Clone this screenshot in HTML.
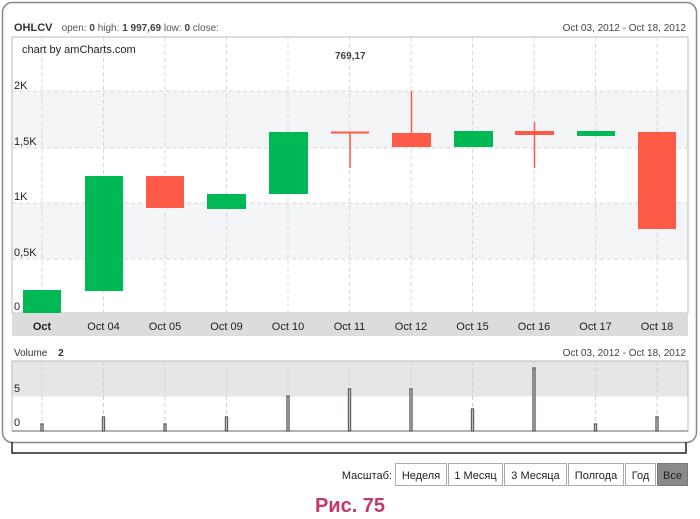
<!DOCTYPE html>
<html><head><meta charset="utf-8"><style>
body{margin:0;background:#fff;width:700px;height:514px;overflow:hidden;font-family:"Liberation Sans",sans-serif}
</style></head><body>
<svg width="700" height="514" xmlns="http://www.w3.org/2000/svg" font-family="Liberation Sans, sans-serif">
<rect x="2.5" y="2.5" width="694" height="440" rx="10" fill="#fff" stroke="#888" stroke-width="1.5"/>
<path d="M12 442 V453 H686 V442" fill="none" stroke="#222" stroke-width="1.5"/>
<text x="14" y="31" font-size="11" fill="#444"><tspan font-weight="bold" fill="#333">OHLCV</tspan>   <tspan dx="6" font-size="10" fill="#555">open: </tspan><tspan font-size="10" font-weight="bold">0</tspan><tspan font-size="10" fill="#555"> high: </tspan><tspan font-size="10" font-weight="bold">1 997,69</tspan><tspan font-size="10" fill="#555"> low: </tspan><tspan font-size="10" font-weight="bold">0</tspan><tspan font-size="10" fill="#555"> close:</tspan></text>
<text x="686" y="31" font-size="10" fill="#444" text-anchor="end">Oct 03, 2012 - Oct 18, 2012</text>
<rect x="12" y="37" width="676" height="276" fill="#fff" stroke="#bbb"/>
<rect x="12.5" y="91" width="675" height="57" fill="#f4f5f7"/>
<rect x="12.5" y="203" width="675" height="56" fill="#f4f5f7"/>
<g stroke="#d8d8d8" stroke-dasharray="4,3">
<line x1="12" y1="91" x2="688" y2="91"/><line x1="12" y1="148" x2="688" y2="148"/><line x1="12" y1="203" x2="688" y2="203"/><line x1="12" y1="259" x2="688" y2="259"/>
<line x1="42" y1="37" x2="42" y2="313"/><line x1="103.5" y1="37" x2="103.5" y2="313"/><line x1="165" y1="37" x2="165" y2="313"/><line x1="226.5" y1="37" x2="226.5" y2="313"/><line x1="288" y1="37" x2="288" y2="313"/><line x1="349.5" y1="37" x2="349.5" y2="313"/><line x1="411" y1="37" x2="411" y2="313"/><line x1="472.5" y1="37" x2="472.5" y2="313"/><line x1="534" y1="37" x2="534" y2="313"/><line x1="595.5" y1="37" x2="595.5" y2="313"/><line x1="657" y1="37" x2="657" y2="313"/>
</g>
<text x="22" y="53" font-size="11" fill="#222">chart by amCharts.com</text>
<text x="335" y="59" font-size="10" font-weight="bold" fill="#444">769,17</text>
<g font-size="11" fill="#222"><text x="14" y="89">2K</text><text x="14" y="145">1,5K</text><text x="14" y="200">1K</text><text x="14" y="256">0,5K</text><text x="14" y="310">0</text></g>
<g fill="#00b954">
<rect x="23" y="290" width="38" height="23"/><rect x="85" y="176" width="38" height="115"/><rect x="207" y="194" width="39" height="15"/><rect x="269" y="132" width="39" height="62"/><rect x="454" y="131" width="39" height="16"/><rect x="577" y="131" width="38" height="5"/>
</g>
<g fill="#ff5a47" stroke="#ff5a47">
<rect x="146" y="176" width="38" height="32" stroke="none"/>
<rect x="331" y="131.5" width="38" height="2" stroke="none"/><line x1="350" y1="132" x2="350" y2="168" stroke-width="1.5"/>
<rect x="392" y="133" width="39" height="14" stroke="none"/><line x1="411.5" y1="91" x2="411.5" y2="133" stroke-width="1.5"/>
<rect x="515" y="131" width="39" height="4" stroke="none"/><line x1="534.5" y1="122" x2="534.5" y2="168" stroke-width="1.5"/>
<rect x="638" y="132" width="38" height="97" stroke="none"/>
</g>
<rect x="12" y="314" width="676" height="22" fill="#dcdcdc"/>
<g font-size="11" fill="#222" text-anchor="middle">
<text x="42" y="330" font-weight="bold">Oct</text><text x="103.5" y="330">Oct 04</text><text x="165" y="330">Oct 05</text><text x="226.5" y="330">Oct 09</text><text x="288" y="330">Oct 10</text><text x="349.5" y="330">Oct 11</text><text x="411" y="330">Oct 12</text><text x="472.5" y="330">Oct 15</text><text x="534" y="330">Oct 16</text><text x="595.5" y="330">Oct 17</text><text x="657" y="330">Oct 18</text>
</g>
<text x="14" y="356" font-size="10" fill="#333">Volume <tspan dx="8" font-weight="bold">2</tspan></text>
<text x="686" y="356" font-size="10" fill="#444" text-anchor="end">Oct 03, 2012 - Oct 18, 2012</text>
<rect x="12" y="361" width="676" height="70" fill="#fff" stroke="#bbb"/>
<rect x="12.5" y="361.5" width="675" height="35" fill="#e6e6e6"/>
<g stroke="#d0d0d0" stroke-dasharray="4,3">
<line x1="42" y1="361" x2="42" y2="431"/><line x1="103.5" y1="361" x2="103.5" y2="431"/><line x1="165" y1="361" x2="165" y2="431"/><line x1="226.5" y1="361" x2="226.5" y2="431"/><line x1="288" y1="361" x2="288" y2="431"/><line x1="349.5" y1="361" x2="349.5" y2="431"/><line x1="411" y1="361" x2="411" y2="431"/><line x1="472.5" y1="361" x2="472.5" y2="431"/><line x1="534" y1="361" x2="534" y2="431"/><line x1="595.5" y1="361" x2="595.5" y2="431"/><line x1="657" y1="361" x2="657" y2="431"/>
</g>
<line x1="12" y1="431" x2="688" y2="431" stroke="#666"/>
<g font-size="11" fill="#222"><text x="14" y="392">5</text><text x="14" y="426">0</text></g>
<g fill="#fff" stroke="#5a6466" stroke-width="1.4">
<rect x="41" y="424" width="2" height="7"/><rect x="102.5" y="417" width="2" height="14"/><rect x="164" y="424" width="2" height="7"/><rect x="225.5" y="417" width="2" height="14"/><rect x="287" y="396" width="2" height="35"/><rect x="348.5" y="389" width="2" height="42"/><rect x="410" y="389" width="2" height="42"/><rect x="471.5" y="409" width="2" height="22"/><rect x="533" y="368" width="2" height="63"/><rect x="594.5" y="424" width="2" height="7"/><rect x="656" y="417" width="2" height="14"/>
</g>
<text x="392" y="479" font-size="11" fill="#222" text-anchor="end">Масштаб:</text>
<g font-size="11" fill="#222" text-anchor="middle" stroke-width="1">
<rect x="395.5" y="463.5" width="51" height="22" fill="#fff" stroke="#aaa"/><text x="421" y="479">Неделя</text>
<rect x="448.5" y="463.5" width="54" height="22" fill="#fff" stroke="#aaa"/><text x="475.5" y="479">1 Месяц</text>
<rect x="504.5" y="463.5" width="62" height="22" fill="#fff" stroke="#aaa"/><text x="535.5" y="479">3 Месяца</text>
<rect x="568.5" y="463.5" width="55" height="22" fill="#fff" stroke="#aaa"/><text x="596" y="479">Полгода</text>
<rect x="625.5" y="463.5" width="30" height="22" fill="#fff" stroke="#aaa"/><text x="640.5" y="479">Год</text>
<rect x="657.5" y="463.5" width="30" height="22" fill="#8a8a8a" stroke="#777"/><text x="672.5" y="479">Все</text>
</g>
<text x="350" y="512" font-size="20" font-weight="bold" fill="#c2386a" text-anchor="middle">Рис. 75</text>
</svg>
</body></html>
